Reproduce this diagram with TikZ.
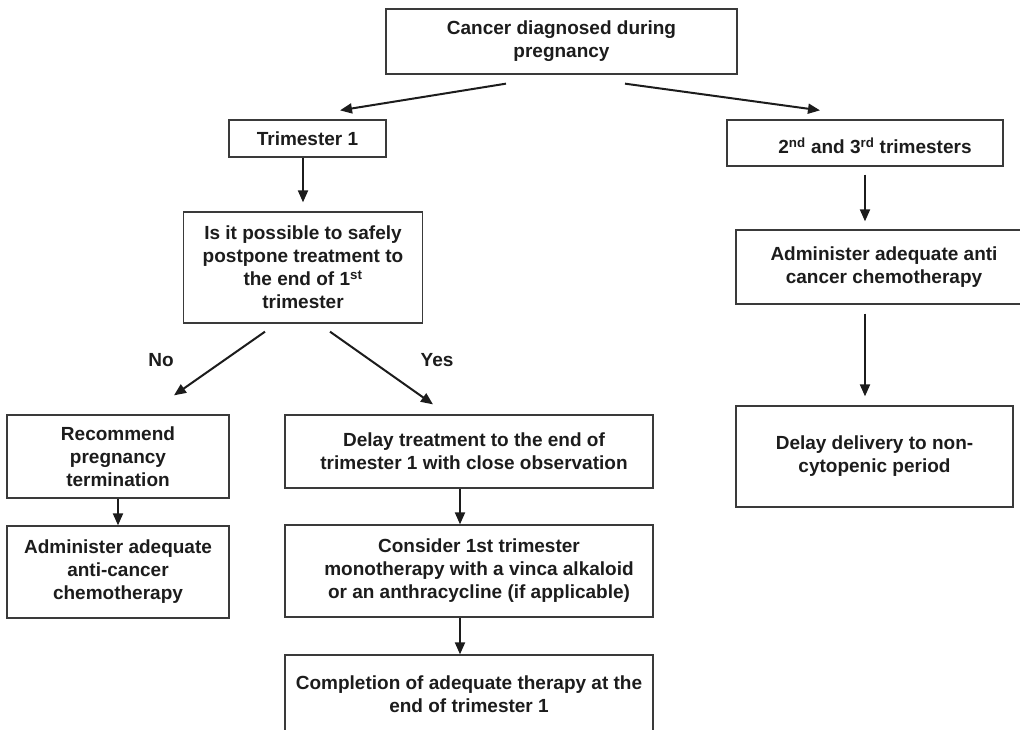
\documentclass[tikz,border=0pt]{standalone}
\usepackage{fontspec}
\setmainfont{Liberation Sans}
\usepackage{tikz}
\usetikzlibrary{arrows.meta}
\usetikzlibrary{calc}
\definecolor{boxgray}{HTML}{3A3A3A}
\definecolor{inkblack}{HTML}{1C1C1C}

\begin{document}
\begin{tikzpicture}[line cap=butt,line join=miter,>={Triangle[length=12pt,width=10pt]},x=1pt,y=-1pt,
  box/.style={draw=boxgray,line width=1.3pt,align=center,inner sep=0pt,
    text=inkblack,font=\fontsize{19}{23}\selectfont\bfseries},
  link/.style={->,line width=2pt,color=inkblack},
  answer/.style={text=inkblack,font=\fontsize{19}{23}\selectfont\bfseries}]
\clip (0,0) rectangle (1020,729);

%boxes
\node [box,minimum width=351,minimum height=65] (top) at (561.5,41.5) {Cancer diagnosed during\\pregnancy};
\node [box,minimum width=157,minimum height=37] (t1) at (307.5,138.5) {Trimester 1};
\node [box,minimum width=276,minimum height=46,text height=25pt,text depth=4pt] (t23) at (865,143) {\hspace{20pt}2\textsuperscript{nd} and 3\textsuperscript{rd} trimesters};
\node [box,minimum width=239,minimum height=111] (q) at (303,267.5) {Is it possible to safely\\postpone treatment to\\the end of 1\textsuperscript{st}\\trimester};
\node [box,minimum width=296,minimum height=74] (adm) at (884,267) {Administer adequate anti\\cancer chemotherapy};
\node [box,minimum width=277,minimum height=101] (del) at (874.5,456.5) {Delay delivery to non-\\cytopenic period};
\node [box,minimum width=222,minimum height=83] (rec) at (118,456.5) {Recommend\\pregnancy\\termination};
\node [box,minimum width=222,minimum height=92] (chemo) at (118,572) {Administer adequate\\anti-cancer\\chemotherapy};
\node [box,minimum width=368,minimum height=73] (delay) at (469,451.5) {\hspace{10pt}Delay treatment to the end of\\\hspace{10pt}trimester 1 with close observation};
\node [box,minimum width=368,minimum height=92] (mono) at (469,571) {\hspace{20pt}Consider 1st trimester\\\hspace{20pt}monotherapy with a vinca alkaloid\\\hspace{20pt}or an anthracycline (if applicable)};
\node [box,minimum width=368,minimum height=79] (compl) at (469,694.5) {Completion of adequate therapy at the\\end of trimester 1};

%No / Yes
\node [answer] (no) at (161,360) {No};
\node [answer] (yes) at (437,360) {Yes};

%nuolet
\draw [link] ([shift={(-55.5,9)}]top.south) -- ([shift={(32.5,-9)}]t1.north);
\draw [link] ([shift={(63.5,9)}]top.south) -- ([shift={(-45,-9)}]t23.north);
\draw [link] (t1.south -| q.north) -- ([shift={(0,-9)}]q.north);
\draw [link] ([shift={(0,8)}]t23.south) -- ($(t23.south |- adm.north)+(0,-8)$);
\draw [link] ($(t23.south |- adm.south)+(0,9)$) -- ($(t23.south |- del.north)+(0,-9)$);
\draw [link] ([shift={(-38,8)}]q.south) -- ([shift={(56,-19)}]rec.north);
\draw [link] ([shift={(27,8)}]q.south) -- ([shift={(-36,-10)}]delay.north);
\draw [link] (rec) -- (chemo);
\draw [link] ([shift={(-9,0)}]delay.south) -- ([shift={(-9,0)}]mono.north);
\draw [link] ([shift={(-9,0)}]mono.south) -- ([shift={(-9,0)}]compl.north);
\end{tikzpicture}
\end{document}
